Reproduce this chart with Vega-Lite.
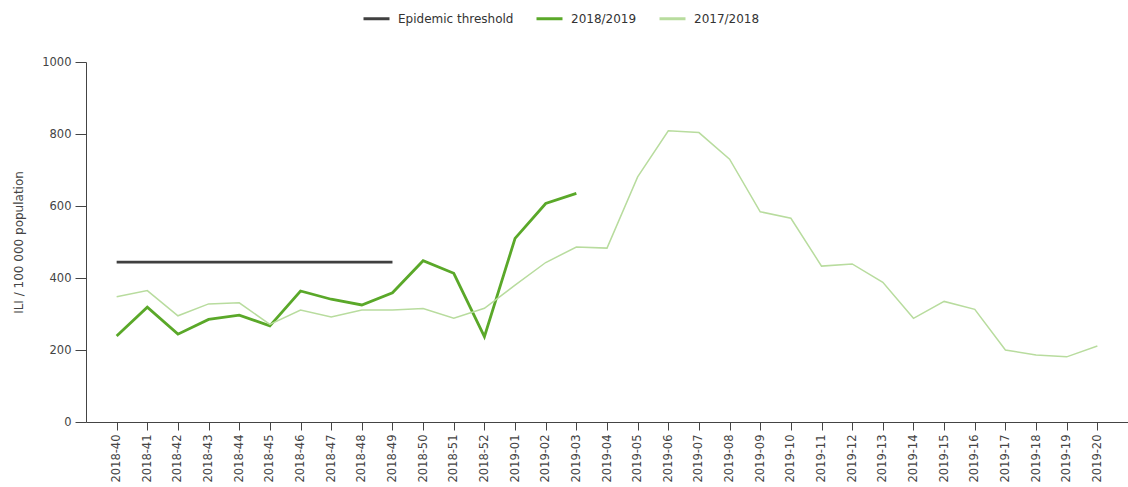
{
  "$schema": "https://vega.github.io/schema/vega-lite/v6.json",
  "width": 1042,
  "height": 360,
  "autosize": {"type": "none"},
  "padding": {"left": 86, "top": 62, "right": 0, "bottom": 65},
  "background": "white",
  "config": {
    "view": {"stroke": null},
    "font": "DejaVu Sans",
    "axis": {"grid": false, "domainColor": "#444", "tickColor": "#444", "labelColor": "#444", "labelFont": "DejaVu Sans", "labelFontSize": 11.5, "titleFont": "DejaVu Sans", "titleFontWeight": "normal", "titleFontSize": 12, "titleColor": "#444"}
  },
  "data": {
    "values": [
      {"week": "2018-40", "series": "Epidemic threshold", "value": 444},
      {"week": "2018-41", "series": "Epidemic threshold", "value": 444},
      {"week": "2018-42", "series": "Epidemic threshold", "value": 444},
      {"week": "2018-43", "series": "Epidemic threshold", "value": 444},
      {"week": "2018-44", "series": "Epidemic threshold", "value": 444},
      {"week": "2018-45", "series": "Epidemic threshold", "value": 444},
      {"week": "2018-46", "series": "Epidemic threshold", "value": 444},
      {"week": "2018-47", "series": "Epidemic threshold", "value": 444},
      {"week": "2018-48", "series": "Epidemic threshold", "value": 444},
      {"week": "2018-49", "series": "Epidemic threshold", "value": 444},

      {"week": "2018-40", "series": "2018/2019", "value": 239},
      {"week": "2018-41", "series": "2018/2019", "value": 319},
      {"week": "2018-42", "series": "2018/2019", "value": 244},
      {"week": "2018-43", "series": "2018/2019", "value": 285},
      {"week": "2018-44", "series": "2018/2019", "value": 297},
      {"week": "2018-45", "series": "2018/2019", "value": 267},
      {"week": "2018-46", "series": "2018/2019", "value": 364},
      {"week": "2018-47", "series": "2018/2019", "value": 341},
      {"week": "2018-48", "series": "2018/2019", "value": 325},
      {"week": "2018-49", "series": "2018/2019", "value": 359},
      {"week": "2018-50", "series": "2018/2019", "value": 448},
      {"week": "2018-51", "series": "2018/2019", "value": 413},
      {"week": "2018-52", "series": "2018/2019", "value": 237},
      {"week": "2019-01", "series": "2018/2019", "value": 510},
      {"week": "2019-02", "series": "2018/2019", "value": 607},
      {"week": "2019-03", "series": "2018/2019", "value": 635},

      {"week": "2018-40", "series": "2017/2018", "value": 348},
      {"week": "2018-41", "series": "2017/2018", "value": 365},
      {"week": "2018-42", "series": "2017/2018", "value": 295},
      {"week": "2018-43", "series": "2017/2018", "value": 328},
      {"week": "2018-44", "series": "2017/2018", "value": 331},
      {"week": "2018-45", "series": "2017/2018", "value": 271},
      {"week": "2018-46", "series": "2017/2018", "value": 311},
      {"week": "2018-47", "series": "2017/2018", "value": 292},
      {"week": "2018-48", "series": "2017/2018", "value": 311},
      {"week": "2018-49", "series": "2017/2018", "value": 311},
      {"week": "2018-50", "series": "2017/2018", "value": 315},
      {"week": "2018-51", "series": "2017/2018", "value": 288},
      {"week": "2018-52", "series": "2017/2018", "value": 316},
      {"week": "2019-01", "series": "2017/2018", "value": 380},
      {"week": "2019-02", "series": "2017/2018", "value": 443},
      {"week": "2019-03", "series": "2017/2018", "value": 486},
      {"week": "2019-04", "series": "2017/2018", "value": 483},
      {"week": "2019-05", "series": "2017/2018", "value": 681},
      {"week": "2019-06", "series": "2017/2018", "value": 809},
      {"week": "2019-07", "series": "2017/2018", "value": 804},
      {"week": "2019-08", "series": "2017/2018", "value": 730},
      {"week": "2019-09", "series": "2017/2018", "value": 584},
      {"week": "2019-10", "series": "2017/2018", "value": 566},
      {"week": "2019-11", "series": "2017/2018", "value": 433},
      {"week": "2019-12", "series": "2017/2018", "value": 439},
      {"week": "2019-13", "series": "2017/2018", "value": 388},
      {"week": "2019-14", "series": "2017/2018", "value": 288},
      {"week": "2019-15", "series": "2017/2018", "value": 335},
      {"week": "2019-16", "series": "2017/2018", "value": 313},
      {"week": "2019-17", "series": "2017/2018", "value": 200},
      {"week": "2019-18", "series": "2017/2018", "value": 186},
      {"week": "2019-19", "series": "2017/2018", "value": 181},
      {"week": "2019-20", "series": "2017/2018", "value": 211}
    ]
  },
  "mark": {"type": "line", "strokeCap": "butt", "strokeJoin": "miter"},
  "encoding": {
    "x": {
      "field": "week", "type": "ordinal", "title": null,
      "scale": {"type": "point", "padding": 1},
      "axis": {"labelAngle": -90, "tickSize": 8, "labelPadding": 4, "labelBaseline": "middle"}
    },
    "y": {
      "field": "value", "type": "quantitative", "title": "ILI / 100 000 population",
      "scale": {"domain": [0, 1000], "nice": false},
      "axis": {"values": [0, 200, 400, 600, 800, 1000], "format": "d", "tickSize": 11, "labelPadding": 4, "titlePadding": 16}
    },
    "color": {
      "field": "series", "type": "nominal",
      "scale": {"domain": ["Epidemic threshold", "2018/2019", "2017/2018"], "range": ["#404040", "#5aa829", "#b8dc9e"]},
      "legend": {
        "title": null, "orient": "none", "direction": "horizontal",
        "legendX": 276, "legendY": -58,
        "symbolType": "stroke", "symbolSize": 676, "symbolStrokeWidth": 3,
        "labelFont": "DejaVu Sans", "labelFontSize": 12, "labelColor": "#333",
        "labelOffset": 7, "columnPadding": 16, "labelLimit": 300
      }
    },
    "strokeWidth": {
      "condition": {"test": "datum.series === '2017/2018'", "value": 1.5},
      "value": 2.8
    },
    "order": {"field": "series", "sort": "ascending"}
  }
}
